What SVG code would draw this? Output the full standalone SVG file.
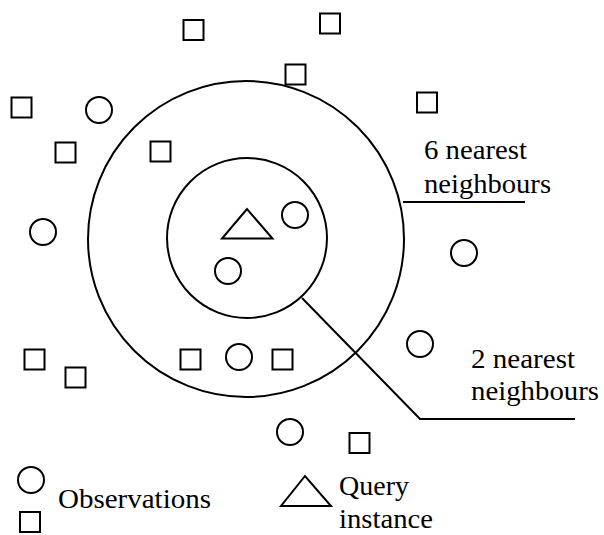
<svg xmlns="http://www.w3.org/2000/svg" width="604" height="535" viewBox="0 0 604 535">
<style>
.s{fill:none;stroke:#000;stroke-width:2}
.l{fill:none;stroke:#000;stroke-width:2}
text{font-family:'Liberation Serif','Times New Roman',serif;font-size:27px;fill:#000}
</style>
<defs>
<rect id="sq" x="-10" y="-10" width="20" height="20" class="s"/>
<circle id="ci" r="13" class="s"/>
</defs>
<rect width="604" height="535" fill="#fff"/>
<g id="rings">
<circle id="ring6" cx="246" cy="239" r="158" class="s"/>
<circle id="ring2" cx="247" cy="238" r="80" class="s"/>
</g>
<g id="connectors">
<line x1="403" y1="202" x2="525" y2="202" class="l"/>
<polyline points="302,298 420,419 575,419" class="l"/>
</g>
<g id="squares">
<use href="#sq" x="193.5" y="30"/>
<use href="#sq" x="330" y="23.5"/>
<use href="#sq" x="295.5" y="74.5"/>
<use href="#sq" x="21.5" y="107.5"/>
<use href="#sq" x="427" y="102.5"/>
<use href="#sq" x="65.5" y="152.5"/>
<use href="#sq" x="160.5" y="151.5"/>
<use href="#sq" x="34.5" y="359.5"/>
<use href="#sq" x="75.5" y="377.5"/>
<use href="#sq" x="190.5" y="359.5"/>
<use href="#sq" x="282.5" y="359.5"/>
<use href="#sq" x="359.5" y="443"/>
</g>
<g id="circles">
<use href="#ci" x="99" y="110"/>
<use href="#ci" x="43" y="232"/>
<use href="#ci" x="295" y="215"/>
<use href="#ci" x="228" y="271"/>
<use href="#ci" x="464" y="253"/>
<use href="#ci" x="239" y="357"/>
<use href="#ci" x="420" y="344"/>
<use href="#ci" x="290" y="432"/>
</g>
<g id="query">
<polygon points="247,209 222,238.5 272.5,238.5" class="s"/>
</g>
<g id="label6" font-family="Liberation Serif, serif">
<text x="424" y="159" textLength="103" lengthAdjust="spacingAndGlyphs">6 nearest</text>
<text x="424" y="193" textLength="127" lengthAdjust="spacingAndGlyphs">neighbours</text>
</g>
<g id="label2" font-family="Liberation Serif, serif">
<text x="471" y="368" textLength="104" lengthAdjust="spacingAndGlyphs">2 nearest</text>
<text x="471" y="400" textLength="128" lengthAdjust="spacingAndGlyphs">neighbours</text>
</g>
<g id="legend-observations">
<use href="#ci" x="31" y="480"/>
<use href="#sq" x="30" y="522"/>
<text x="58" y="508" textLength="153" lengthAdjust="spacingAndGlyphs">Observations</text>
</g>
<g id="legend-query">
<polygon points="305,476 281,506 331,506" class="s"/>
<text x="339" y="495" textLength="70" lengthAdjust="spacingAndGlyphs">Query</text>
<text x="339" y="528" textLength="94" lengthAdjust="spacingAndGlyphs">instance</text>
</g>
</svg>
